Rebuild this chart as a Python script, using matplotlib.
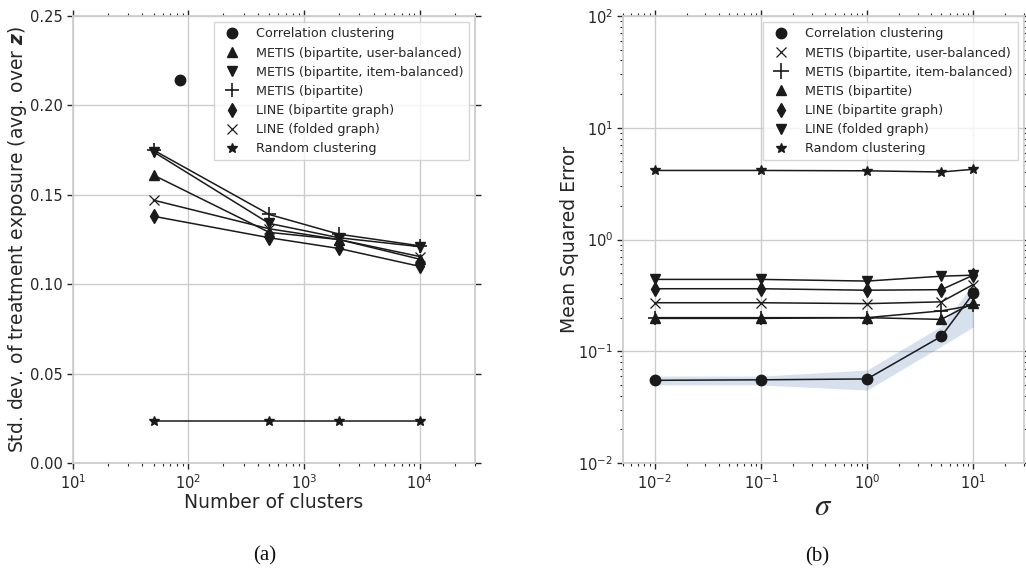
import matplotlib
matplotlib.use("Agg")
import matplotlib.pyplot as plt
from matplotlib.lines import Line2D

# (a) std. dev. of treatment exposure vs number of clusters
n_clusters = [50, 500, 2000, 10000]
corr_a_x = [85]
corr_a_y = [0.214]
metis_user_a = [0.161, 0.129, 0.125, 0.114]
metis_item_a = [0.174, 0.134, 0.126, 0.121]
metis_bip_a = [0.175, 0.139, 0.128, 0.1215]
line_bip_a = [0.138, 0.126, 0.120, 0.110]
line_fold_a = [0.147, 0.131, 0.125, 0.1155]
random_a = [0.0237, 0.0237, 0.0237, 0.0237]

# (b) mean squared error vs sigma
sigma = [0.01, 0.1, 1, 5, 10]
corr_b = [0.055, 0.0556, 0.0566, 0.136, 0.33]
corr_b_lo = [0.050, 0.050, 0.045, 0.111, 0.165]
corr_b_hi = [0.060, 0.060, 0.068, 0.168, 0.40]
metis_user_b = [0.272, 0.272, 0.267, 0.277, 0.396]
metis_item_b = [0.197, 0.197, 0.2, 0.23, 0.258]
metis_bip_b = [0.2, 0.2, 0.2, 0.193, 0.272]
line_bip_b = [0.363, 0.363, 0.352, 0.356, 0.48]
line_fold_b = [0.44, 0.44, 0.425, 0.47, 0.48]
random_b = [4.15, 4.15, 4.12, 4.02, 4.25]

plt.rcParams['font.family'] = ['DejaVu Sans']
plt.rcParams['mathtext.fontset'] = 'dejavusans'
plt.rcParams['axes.unicode_minus'] = False

ink = '#262626'
mk = '#1a1a1a'

fig = plt.figure(figsize=(10.26, 5.71), dpi=100)
ax1 = fig.add_axes([0.0709, 0.189, 0.392, 0.783])
ax2 = fig.add_axes([0.607, 0.189, 0.391, 0.783])


def style(ax):
    for s in ax.spines.values():
        s.set_color('#cccccc')
        s.set_linewidth(1.25)
    ax.grid(True, which='major', color='#cccccc', linewidth=1.0)
    ax.set_axisbelow(True)
    ax.tick_params(which='both', direction='out', colors=ink, labelsize=10.5,
                   top=True, right=True, labeltop=False, labelright=False)
    ax.tick_params(which='major', length=4.5, width=1, pad=2.5)
    ax.tick_params(which='minor', length=2.5, width=0.8, pad=2.5)


def series(ax, x, y, marker, ms=7, mew=1.0):
    ax.plot(x, y, color=mk, linewidth=1.1, marker=marker, markersize=ms,
            markeredgewidth=mew, markerfacecolor=mk, markeredgecolor=mk)


def handle(marker, label, ms=7, mew=1.0):
    return Line2D([], [], linestyle='none', marker=marker, markersize=ms,
                  markeredgewidth=mew, color=mk, label=label)


# ---- panel (a)
series(ax1, corr_a_x, corr_a_y, 'o', ms=7.5)
series(ax1, n_clusters, metis_user_a, '^')
series(ax1, n_clusters, metis_item_a, 'v')
series(ax1, n_clusters, metis_bip_a, '+', ms=9.5, mew=1.2)
series(ax1, n_clusters, line_bip_a, 'd')
series(ax1, n_clusters, line_fold_a, 'x', ms=7, mew=0.9)
series(ax1, n_clusters, random_a, '*', ms=7.5)
ax1.set_xscale('log')
ax1.set_xlim(10, 3e4)
ax1.set_ylim(0, 0.25)
ax1.set_yticks([0, 0.05, 0.10, 0.15, 0.20, 0.25])
ax1.set_yticklabels(['0.00', '0.05', '0.10', '0.15', '0.20', '0.25'])
style(ax1)
ax1.set_xlabel('Number of clusters', fontsize=13.5, color=ink, labelpad=1)
ax1.set_ylabel(r'Std. dev. of treatment exposure (avg. over $\boldsymbol{z}$)',
               fontsize=13.5, color=ink, labelpad=1)
h1 = [handle('o', 'Correlation clustering', 7.5),
      handle('^', 'METIS (bipartite, user-balanced)'),
      handle('v', 'METIS (bipartite, item-balanced)'),
      handle('+', 'METIS (bipartite)', 9.5, 1.2),
      handle('d', 'LINE (bipartite graph)'),
      handle('x', 'LINE (folded graph)', 7, 0.9),
      handle('*', 'Random clustering', 7.5)]
leg1 = ax1.legend(handles=h1, loc='upper right', fontsize=9.2, frameon=True,
                  fancybox=False, edgecolor='#cccccc', borderaxespad=0.5,
                  labelspacing=0.48, handletextpad=0.9)
for t in leg1.get_texts():
    t.set_color(ink)

# ---- panel (b)
ax2.fill_between(sigma, corr_b_lo, corr_b_hi, color='#4c72b0', alpha=0.22,
                 linewidth=0)
series(ax2, sigma, corr_b, 'o', ms=7.5)
series(ax2, sigma, metis_user_b, 'x', ms=7, mew=0.9)
series(ax2, sigma, metis_item_b, '+', ms=9.5, mew=1.2)
series(ax2, sigma, metis_bip_b, '^')
series(ax2, sigma, line_bip_b, 'd')
series(ax2, sigma, line_fold_b, 'v')
series(ax2, sigma, random_b, '*', ms=7.5)
ax2.set_xscale('log')
ax2.set_yscale('log')
ax2.set_xlim(5e-3, 3e1)
ax2.set_ylim(1e-2, 1e2)
style(ax2)
ax2.set_xlabel(r'$\sigma$', fontsize=22, color=ink, labelpad=0.5,
               math_fontfamily='stix')
ax2.set_ylabel('Mean Squared Error', fontsize=13.5, color=ink, labelpad=-0.5)
h2 = [handle('o', 'Correlation clustering', 7.5),
      handle('x', 'METIS (bipartite, user-balanced)', 7, 0.9),
      handle('+', 'METIS (bipartite, item-balanced)', 12, 1.2),
      handle('^', 'METIS (bipartite)'),
      handle('d', 'LINE (bipartite graph)'),
      handle('v', 'LINE (folded graph)'),
      handle('*', 'Random clustering', 7.5)]
leg2 = ax2.legend(handles=h2, loc='upper right', fontsize=9.2, frameon=True,
                  fancybox=False, edgecolor='#cccccc', borderaxespad=0.5,
                  labelspacing=0.48, handletextpad=0.9)
for t in leg2.get_texts():
    t.set_color(ink)

fig.text(0.258, 0.027, '(a)', fontsize=15, family='Liberation Serif',
         ha='center', va='center', color='#111111')
fig.text(0.796, 0.024, '(b)', fontsize=15, family='Liberation Serif',
         ha='center', va='center', color='#111111')

fig.savefig('out.png', dpi=100)
